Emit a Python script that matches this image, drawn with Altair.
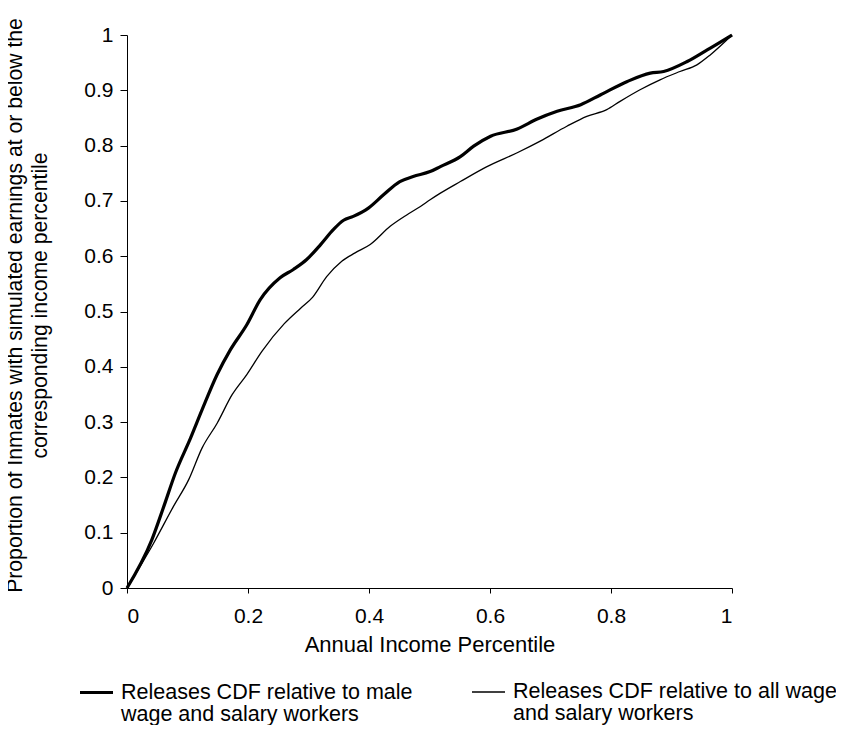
import altair as alt
import pandas as pd

MALE = "Releases CDF relative to male|wage and salary workers"
ALL = "Releases CDF relative to all wage|and salary workers"

male_x = [0, 0.041, 0.061, 0.080, 0.105, 0.124, 0.149, 0.171, 0.198, 0.22, 0.253, 0.275,
          0.297, 0.32, 0.341, 0.358, 0.374, 0.399, 0.424, 0.451, 0.473, 0.501, 0.518, 0.551,
          0.573, 0.601, 0.645, 0.678, 0.711, 0.75, 0.783, 0.827, 0.865, 0.887, 0.926, 0.959, 1.0]
male_y = [0, 0.087, 0.148, 0.208, 0.271, 0.322, 0.386, 0.431, 0.476, 0.521, 0.561, 0.576,
          0.594, 0.621, 0.648, 0.665, 0.672, 0.687, 0.711, 0.735, 0.744, 0.753, 0.762, 0.780,
          0.799, 0.817, 0.830, 0.848, 0.862, 0.874, 0.892, 0.916, 0.931, 0.934, 0.952, 0.973, 1.0]

all_x = [0, 0.044, 0.077, 0.102, 0.124, 0.149, 0.174, 0.198, 0.223, 0.26, 0.287, 0.307,
         0.33, 0.355, 0.377, 0.402, 0.435, 0.463, 0.485, 0.501, 0.518, 0.551, 0.595, 0.645,
         0.683, 0.727, 0.76, 0.793, 0.815, 0.848, 0.881, 0.914, 0.942, 0.964, 1.0]
all_y = [0, 0.081, 0.148, 0.196, 0.253, 0.298, 0.35, 0.386, 0.428, 0.478, 0.506, 0.526,
         0.563, 0.591, 0.606, 0.621, 0.654, 0.675, 0.690, 0.702, 0.714, 0.735, 0.762, 0.787,
         0.808, 0.835, 0.853, 0.865, 0.880, 0.901, 0.919, 0.934, 0.946, 0.964, 1.0]

x_ticks = [0, 0.2, 0.4, 0.6, 0.8, 1]
y_ticks = [0, 0.1, 0.2, 0.3, 0.4, 0.5, 0.6, 0.7, 0.8, 0.9, 1]

rows = []
for i, (a, b) in enumerate(zip(male_x, male_y)):
    rows.append({"x": a, "y": b, "series": MALE, "order": i})
for i, (a, b) in enumerate(zip(all_x, all_y)):
    rows.append({"x": a, "y": b, "series": ALL, "order": i})
df = pd.DataFrame(rows)

FONT = "Liberation Sans"

chart = alt.Chart(df).mark_line(color="black", interpolate="monotone").encode(
    x=alt.X("x:Q", scale=alt.Scale(domain=[0, 1], nice=False),
            axis=alt.Axis(values=x_ticks, format=".1~f", title="Annual Income Percentile",
                          grid=False, domainColor="black", tickColor="black", tickSize=5,
                          labelPadding=12, labelFontSize=21, labelColor="black", labelFont=FONT,
                          titleFont=FONT, titleFontSize=22, titleFontWeight="normal",
                          titleColor="black", titleY=63, titleBaseline="alphabetic")),
    y=alt.Y("y:Q", scale=alt.Scale(domain=[0, 1], nice=False),
            axis=alt.Axis(values=y_ticks, format=".1~f",
                          title=["Proportion of Inmates with simulated earnings at or below the",
                                 "corresponding income percentile"],
                          grid=False, domainColor="black", tickColor="black", tickSize=7,
                          labelPadding=7, labelFontSize=21, labelColor="black", labelFont=FONT,
                          titleFont=FONT, titleFontSize=21.2, titleFontWeight="normal",
                          titleColor="black", titleX=-106, titleY=270,
                          titleBaseline="alphabetic", titleLineHeight=25)),
    strokeWidth=alt.StrokeWidth(
        "series:N",
        scale=alt.Scale(domain=[MALE, ALL], range=[3.2, 1.3]),
        legend=alt.Legend(title=None, orient="none", legendX=-49, legendY=639,
                          direction="horizontal", columns=2, columnPadding=56,
                          symbolType="stroke", symbolSize=1089, symbolStrokeColor="black",
                          labelExpr="split(datum.label, '|')", labelFont=FONT,
                          labelFontSize=21.5, labelColor="black", labelLimit=500,
                          labelOffset=6, labelBaseline="middle",
                          padding=0),
    ),
    order="order:Q",
).properties(
    width=605, height=553,
    autosize=alt.AutoSizeParams(type="none"),
    padding={"left": 119, "top": 27, "right": 104, "bottom": 137},
).configure(style={"guide-label": {"lineHeight": 22}}).configure_view(strokeWidth=0)

chart.save("out.html", embed_options={"renderer": "svg", "actions": False})
